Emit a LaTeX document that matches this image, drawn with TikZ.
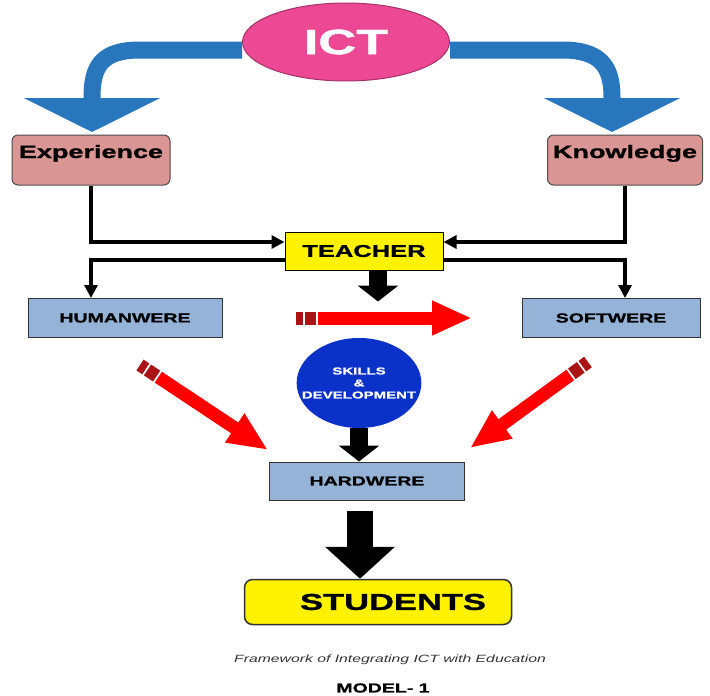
\documentclass[tikz,border=0pt]{standalone}
\usepackage{fontspec}
\newfontfamily\wide{Liberation Sans}[FakeStretch=1.5,BoldFeatures={FakeBold=1.2}]
\usetikzlibrary{arrows.meta,shapes.geometric,calc}
\definecolor{ictpink}{RGB}{236,72,148}
\definecolor{rosebox}{RGB}{217,150,148}
\definecolor{steelbox}{RGB}{149,179,215}
\definecolor{skillblue}{RGB}{10,50,200}
\definecolor{curveblue}{RGB}{40,118,188}
\definecolor{pencildark}{RGB}{170,20,20}
\tikzset{
	boxfont/.style={font=\wide\bfseries\fontsize{#1}{#1}\selectfont},
	rosenode/.style={draw=black!70,line width=1pt,fill=rosebox,rounded corners=6pt,
		minimum height=50pt,inner sep=0pt,text height=13pt,text depth=17pt,boxfont=18},
	steelnode/.style={draw=black!80,line width=1pt,fill=steelbox,minimum height=39pt,inner sep=0pt,boxfont=13},
	conn/.style={line width=3.5pt,-{Triangle[width=13pt,length=13pt]}},
	bluecurve/.style={curveblue,line width=17pt,-{Triangle[width=135pt,length=34pt]}},
	fatarrow/.style n args={3}{line width=#1,-{Triangle[width=#2,length=#3]}},
}
% fleche rouge en crayon
\newcommand\pencil[2]{
	\draw[pencildark,line width=13pt] (#1) -- ($(#1)!7pt!(#2)$);
	\draw[pencildark,line width=13pt] ($(#1)!9pt!(#2)$) -- ($(#1)!20pt!(#2)$);
	\draw[red,line width=13pt,-{Triangle[width=32pt,length=40pt]}] ($(#1)!22pt!(#2)$) -- (#2);
}
\begin{document}
\begin{tikzpicture}[x=1pt,y=-1pt]
	\useasboundingbox[fill=white] (0,0) rectangle (710,696);
	% les noeuds
	\node[ellipse,draw=ictpink!70!black,line width=1pt,fill=ictpink,minimum width=207pt,minimum height=78pt,
		text=white,boxfont=35] (ict) at (346,42) {ICT};
	\node[rosenode,minimum width=158pt] (exp) at (91,160) {Experience};
	\node[rosenode,minimum width=155pt] (know) at (625,160) {Knowledge};
	\node[draw,line width=1pt,fill=yellow,minimum width=158pt,minimum height=38pt,inner sep=0pt,boxfont=17] (teach) at (364,251) {TEACHER};
	\node[steelnode,minimum width=194pt] (hum) at (125,318) {HUMANWERE};
	\node[steelnode,minimum width=178pt] (soft) at (611,318) {SOFTWERE};
	\node[ellipse,fill=skillblue,minimum width=122pt,minimum height=90pt,inner sep=-13pt,text=white,align=center,
		font=\wide\bfseries\fontsize{10}{12}\selectfont] (skill) at (359,383) {SKILLS\\\&\\DEVELOPMENT};
	\node[steelnode,minimum width=195pt,minimum height=38pt] (hard) at (367,481) {HARDWERE};
	\node[draw=black!80,line width=1.5pt,fill=yellow,rounded corners=8pt,minimum width=267pt,minimum height=45pt,
		inner sep=0pt,boxfont=23] (stud) at (378,602) {\hspace*{30pt}STUDENTS};
	\node[font=\wide\itshape\fontsize{10.5}{12}\selectfont,text=black!80] (cap) at (390,660) {Framework of Integrating ICT with Education};
	\node[font=\wide\bfseries\fontsize{13}{14}\selectfont] (model) at (383,688) {MODEL- 1};
	% fleches bleues
	\draw[bluecurve] (ict.west |- 0,50) -- (140,50) .. controls (102,50) and (92,66) .. (92,97) -- (92,132);
	\draw[bluecurve] (ict.east |- 0,50) -- (562,50) .. controls (600,50) and (612,66) .. (612,97) -- (612,132);
	% connecteurs
	\draw[conn] (exp.south) |- ([yshift=9pt]teach.west);
	\draw[conn] (know.south) |- ([yshift=9pt]teach.east);
	\draw[conn] ([yshift=-9pt]teach.west) -| (exp.south |- hum.north);
	\draw[conn] ([yshift=-9pt]teach.east) -| (know.south |- soft.north);
	% fleches noires
	\draw[fatarrow={18pt}{40pt}{16pt}] ([xshift=14pt]teach.south) -- ++(0,31);
	\draw[fatarrow={18pt}{40pt}{16pt}] (skill.south) -- (skill.south |- hard.north);
	\draw[fatarrow={26pt}{68pt}{32pt}] ([xshift=-7pt,yshift=-10pt]hard.south) -- ([xshift=-7pt]hard.south |- stud.north);
	% fleches rouges
	\coordinate (ra1) at (296,318);
	\coordinate (ra2) at (472,318);
	\coordinate (rl1) at (140,365);
	\coordinate (rl2) at (268,450);
	\coordinate (rr1) at (588,362);
	\coordinate (rr2) at (470,448);
	\pencil{ra1}{ra2}
	\pencil{rl1}{rl2}
	\pencil{rr1}{rr2}
\end{tikzpicture}
\end{document}
